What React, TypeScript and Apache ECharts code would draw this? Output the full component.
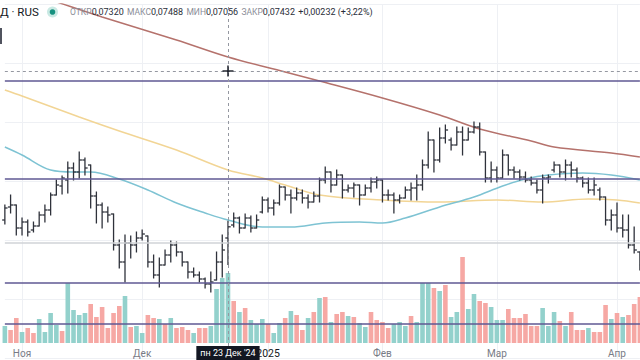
import React, { useEffect, useRef } from 'react';
import * as echarts from 'echarts';

// ---- time axis ----
const barCount = 112;
const monthTickIndex = [3, 24, 46, 66, 86, 107];
const monthTickLabel = ['Ноя', 'Дек', '2025', 'Фев', 'Мар', 'Апр'];

// ---- OHLC (price) ----
const opens = [
  0.0750, 0.0763, 0.0765, 0.0742, 0.0748, 0.0740, 0.0744, 0.0755, 0.0760, 0.0775,
  0.0784, 0.0790, 0.0802, 0.0798, 0.0810, 0.0805, 0.0774, 0.0765, 0.0758, 0.0756,
  0.0725, 0.0708, 0.0727, 0.0725, 0.0732, 0.0734, 0.0708, 0.0695, 0.0705, 0.0715,
  0.0725, 0.0718, 0.0708, 0.0698, 0.0695, 0.0691, 0.0686, 0.0690, 0.0708, 0.07320,
  0.0745, 0.0752, 0.0742, 0.0752, 0.0742, 0.0758, 0.0770, 0.0762, 0.0767, 0.0783,
  0.0775, 0.0772, 0.0777, 0.0772, 0.0768, 0.0774, 0.0790, 0.0798, 0.0785, 0.0795,
  0.0780, 0.0782, 0.0785, 0.0775, 0.0782, 0.0788, 0.0790, 0.0775, 0.0775, 0.0770,
  0.0772, 0.0780, 0.0782, 0.0785, 0.0805, 0.0830, 0.0810, 0.0832, 0.0830, 0.0825,
  0.0838, 0.0830, 0.0838, 0.0843, 0.0818, 0.0792, 0.0800, 0.0792, 0.0815, 0.0800,
  0.0798, 0.0793, 0.0790, 0.0787, 0.0780, 0.0792, 0.0800, 0.0805, 0.0798, 0.0805,
  0.0800, 0.0792, 0.0787, 0.0780, 0.0780, 0.0773, 0.0750, 0.0755, 0.0742, 0.0740,
  0.0725, 0.0718,
];
const highs = [
  0.0765, 0.0775, 0.0765, 0.0752, 0.0750, 0.0748, 0.0758, 0.0765, 0.0777, 0.0790,
  0.0794, 0.0808, 0.0807, 0.0818, 0.0812, 0.0805, 0.0778, 0.0767, 0.0763, 0.0756,
  0.0730, 0.0735, 0.0734, 0.0738, 0.0740, 0.0734, 0.0715, 0.0712, 0.0720, 0.0729,
  0.0728, 0.0718, 0.0708, 0.0702, 0.0698, 0.0692, 0.0698, 0.0718, 0.0735, 0.07488,
  0.0757, 0.0753, 0.0756, 0.0754, 0.0755, 0.0773, 0.0772, 0.0770, 0.0785, 0.0783,
  0.0780, 0.0782, 0.0780, 0.0775, 0.0778, 0.0792, 0.0803, 0.0798, 0.0800, 0.0795,
  0.0785, 0.0787, 0.0785, 0.0785, 0.0792, 0.0793, 0.0790, 0.0780, 0.0777, 0.0775,
  0.0783, 0.0787, 0.0795, 0.0810, 0.0838, 0.0830, 0.0842, 0.0845, 0.0832, 0.0843,
  0.0843, 0.0842, 0.0848, 0.0847, 0.0818, 0.0808, 0.0803, 0.0820, 0.0815, 0.0803,
  0.0800, 0.0798, 0.0793, 0.0790, 0.0795, 0.0795, 0.0808, 0.0805, 0.0810, 0.0808,
  0.0802, 0.0793, 0.0792, 0.0792, 0.0782, 0.0773, 0.0760, 0.0767, 0.0755, 0.0755,
  0.0743, 0.0718,
];
const lows = [
  0.0746, 0.0757, 0.0735, 0.0735, 0.0734, 0.0738, 0.0744, 0.0748, 0.0755, 0.0775,
  0.0776, 0.0777, 0.0790, 0.0792, 0.0795, 0.0762, 0.0747, 0.0742, 0.0748, 0.0720,
  0.0702, 0.0688, 0.0712, 0.0718, 0.0730, 0.0703, 0.0692, 0.0683, 0.0705, 0.0708,
  0.0714, 0.0704, 0.0692, 0.0693, 0.0688, 0.0682, 0.0678, 0.0690, 0.0693, 0.07056,
  0.0743, 0.0737, 0.0742, 0.0738, 0.0742, 0.0757, 0.0758, 0.0755, 0.0765, 0.0770,
  0.0757, 0.0770, 0.0767, 0.0762, 0.0768, 0.0768, 0.0787, 0.0778, 0.0785, 0.0772,
  0.0778, 0.0773, 0.0765, 0.0775, 0.0778, 0.0782, 0.0768, 0.0770, 0.0757, 0.0767,
  0.0772, 0.0770, 0.0770, 0.0780, 0.0802, 0.0798, 0.0808, 0.0827, 0.0820, 0.0825,
  0.0815, 0.0830, 0.0837, 0.0815, 0.0788, 0.0788, 0.0788, 0.0792, 0.0795, 0.0792,
  0.0790, 0.0788, 0.0785, 0.0777, 0.0767, 0.0787, 0.0798, 0.0793, 0.0790, 0.0793,
  0.0788, 0.0783, 0.0777, 0.0775, 0.0770, 0.0745, 0.0740, 0.0738, 0.0733, 0.0722,
  0.0717, 0.0700,
];
const closes = [
  0.0762, 0.0765, 0.0742, 0.0748, 0.0738, 0.0744, 0.0755, 0.0760, 0.0775, 0.0785,
  0.0792, 0.0802, 0.0798, 0.0810, 0.0802, 0.0774, 0.0765, 0.0758, 0.0755, 0.0725,
  0.0708, 0.0727, 0.0725, 0.0732, 0.0736, 0.0708, 0.0695, 0.0705, 0.0715, 0.0725,
  0.0718, 0.0708, 0.0698, 0.0695, 0.0691, 0.0686, 0.0688, 0.0708, 0.0720, 0.07432,
  0.0752, 0.0742, 0.0752, 0.0742, 0.0750, 0.0770, 0.0762, 0.0767, 0.0783, 0.0775,
  0.0772, 0.0777, 0.0772, 0.0768, 0.0774, 0.0790, 0.0798, 0.0785, 0.0795, 0.0780,
  0.0782, 0.0785, 0.0775, 0.0782, 0.0788, 0.0790, 0.0775, 0.0775, 0.0770, 0.0772,
  0.0780, 0.0782, 0.0785, 0.0805, 0.0830, 0.0810, 0.0832, 0.0840, 0.0825, 0.0838,
  0.0830, 0.0838, 0.0843, 0.0818, 0.0792, 0.0800, 0.0792, 0.0815, 0.0800, 0.0798,
  0.0793, 0.0790, 0.0787, 0.0780, 0.0792, 0.0793, 0.0805, 0.0798, 0.0805, 0.0800,
  0.0792, 0.0787, 0.0780, 0.0785, 0.0773, 0.0750, 0.0755, 0.0742, 0.0740, 0.0725,
  0.0720, 0.0705,
];

// ---- volume ----
const volumes = [
  17, 13, 25, 11, 15, 10, 24, 11, 30, 18,
  12, 60, 33, 28, 30, 39, 26, 36, 15, 30,
  37, 47, 16, 17, 10, 28, 25, 24, 19, 25,
  15, 16, 13, 10, 15, 15, 17, 54, 65, 70,
  42, 31, 35, 23, 19, 24, 19, 10, 20, 25,
  32, 28, 13, 25, 31, 45, 46, 21, 29, 31,
  27, 26, 20, 16, 31, 23, 21, 15, 19, 21,
  17, 27, 21, 60, 60, 55, 52, 58, 26, 31,
  86, 34, 49, 42, 40, 36, 23, 23, 34, 25,
  25, 29, 17, 17, 35, 17, 31, 22, 17, 31,
  13, 13, 15, 11, 11, 38, 24, 30, 26, 28,
  39, 46,
];
const volumeUp = [
  1, 0, 0, 1, 0, 0, 1, 1, 1, 1,
  0, 1, 1, 1, 1, 0, 0, 0, 0, 0,
  0, 1, 0, 1, 1, 0, 0, 1, 0, 1,
  0, 0, 0, 1, 0, 0, 1, 1, 1, 1,
  0, 1, 0, 1, 1, 1, 0, 1, 1, 0,
  1, 0, 0, 1, 0, 1, 0, 1, 0, 0,
  1, 0, 1, 1, 0, 0, 0, 0, 1, 1,
  1, 0, 1, 1, 1, 0, 1, 0, 1, 1,
  0, 1, 1, 0, 0, 1, 1, 1, 0, 0,
  0, 0, 0, 0, 1, 1, 1, 0, 1, 0,
  0, 0, 1, 0, 0, 0, 1, 0, 1, 0,
  0, 0,
];

// ---- moving averages: [bar index, price] ----
const maSlow = [
  [0, 0.0985], [8, 0.0970], [17, 0.0953], [30, 0.0930], [39, 0.0913], [49, 0.0898],
  [55, 0.0889], [66, 0.0872], [76, 0.0855], [83, 0.0841], [92, 0.0829], [96, 0.0823],
  [106, 0.0817], [111, 0.0813],
];
const maMid = [
  [0, 0.0880], [3, 0.0874], [13, 0.0853], [20, 0.0839], [30, 0.0820], [39, 0.0800],
  [45, 0.0792], [49, 0.0785], [55, 0.0775], [66, 0.0770], [76, 0.0768], [86, 0.0770],
  [94, 0.0768], [102, 0.0771], [107, 0.0770], [111, 0.0767],
];
const maFast = [
  [0, 0.0823], [3, 0.0815], [8, 0.0800], [12, 0.0798], [15, 0.0798], [20, 0.0791],
  [25, 0.0780], [30, 0.0767], [35, 0.0757], [39, 0.0750], [45, 0.0743], [50, 0.0743],
  [56, 0.0747], [62, 0.0748], [66, 0.0747], [70, 0.0752], [76, 0.0763], [82, 0.0773],
  [87, 0.0784], [91, 0.0791], [95, 0.0795], [101, 0.0797], [106, 0.0795], [111, 0.0790],
];

// ---- drawn levels & crosshair ----
const purpleLevels = [0.0889, 0.0791, 0.06875, 0.06465];
const grayLevel = 0.0727;
const crosshairIndex = 39;
const crosshairPrice = 0.0899;
const crosshairLabel = "пн 23 Дек '24";
const legendPairs = [
  ['ОТКР', '0,07320'],
  ['МАКС', '0,07488'],
  ['МИН', '0,07056'],
  ['ЗАКР', '0,07432'],
];
const legendChange = '+0,00232 (+3,22%)';
const symbolText = 'Д · RUS';

const FONT = 'Roboto, "Noto Sans", sans-serif';

export default function App() {
  const ref = useRef<HTMLDivElement>(null);
  useEffect(() => {
    if (!ref.current) return;
    const chart = echarts.init(ref.current, undefined, { renderer: 'svg' });
    const categories = Array.from({ length: barCount }, (_, i) => String(i));
    const ohlc = opens.map((o, i) => [i, o, highs[i], lows[i], closes[i]]);
    const gridLeft = 4.86;
    const gridWidth = 635.03;

    const lineSeries = (data: number[][], color: string, extra: any = {}) => ({
      type: 'line',
      xAxisIndex: 0,
      yAxisIndex: 0,
      data,
      showSymbol: false,
      smooth: 0.35,
      silent: true,
      z: 4,
      lineStyle: { color, width: 1.5 },
      ...extra,
    });

    const dash = { color: '#9598a1', width: 1, type: [3, 3] };

    chart.setOption({
      animation: false,
      backgroundColor: '#ffffff',
      grid: [
        { left: gridLeft, width: gridWidth, top: 4, height: 354 },
        { left: gridLeft, width: gridWidth, top: 243, height: 100 },
      ],
      xAxis: [
        {
          type: 'category', gridIndex: 0, data: categories, boundaryGap: false,
          axisLine: { show: false }, axisTick: { show: false }, axisLabel: { show: false },
          splitLine: {
            show: true,
            interval: (i: number) => monthTickIndex.includes(i),
            lineStyle: { color: '#eef0f4', width: 1 },
          },
        },
        {
          type: 'category', gridIndex: 1, data: categories, boundaryGap: false,
          axisLine: { show: false }, axisTick: { show: false }, splitLine: { show: false },
          axisLabel: {
            show: true,
            interval: (i: number) => monthTickIndex.includes(i),
            formatter: (_v: string, i: number) => {
              const k = monthTickIndex.indexOf(i);
              if (k < 0) return '';
              const t = monthTickLabel[k];
              return /^\d+$/.test(t) ? `{y|${t}}` : t;
            },
            rich: { y: { color: '#131722', fontSize: 10.5, fontFamily: FONT } },
            margin: 5,
            color: '#787b86',
            fontSize: 10,
            fontFamily: FONT,
          },
        },
      ],
      yAxis: [
        {
          type: 'value', gridIndex: 0, min: 0.0612, max: 0.0966, interval: 0.0059,
          axisLabel: { show: false }, axisLine: { show: false }, axisTick: { show: false },
          splitLine: { show: true, lineStyle: { color: '#eef0f4', width: 1 } },
        },
        {
          type: 'value', gridIndex: 1, min: 0, max: 100, show: false,
          splitLine: { show: false },
        },
      ],
      series: [
        {
          type: 'bar', xAxisIndex: 1, yAxisIndex: 1, barWidth: 4.6, silent: true, z: 1,
          data: volumes.map((v, i) => ({
            value: v,
            itemStyle: { color: volumeUp[i] ? '#93d1cc' : '#f6a8a4' },
          })),
        },
        lineSeries(maSlow, '#b5726c'),
        lineSeries(maMid, '#f2d595'),
        lineSeries(maFast, '#7ec3d3', {
          markLine: {
            silent: true,
            precision: 6,
            symbol: ['none', 'none'],
            label: { show: false },
            z: 6,
            data: [
              ...purpleLevels.map((p) => ({ yAxis: p, lineStyle: { color: '#5f5893', width: 1.6, type: 'solid' } })),
              { yAxis: grayLevel, lineStyle: { color: '#d1d3d7', width: 1.5, type: 'solid' } },
              { yAxis: crosshairPrice, lineStyle: dash },
              { xAxis: crosshairIndex, lineStyle: dash },
            ],
          },
        }),
        {
          type: 'custom', xAxisIndex: 0, yAxisIndex: 0, silent: true, z: 5,
          data: ohlc,
          encode: { x: 0, y: [1, 2, 3, 4] },
          renderItem: (_p: any, api: any) => {
            const i = api.value(0);
            const o = api.coord([i, api.value(1)]);
            const h = api.coord([i, api.value(2)]);
            const l = api.coord([i, api.value(3)]);
            const c = api.coord([i, api.value(4)]);
            const x = o[0];
            const st = { stroke: '#2f323b', lineWidth: 1.3 };
            const t = 2.7;
            return {
              type: 'group',
              children: [
                { type: 'line', shape: { x1: x, y1: h[1] - 0.5, x2: x, y2: l[1] + 0.5 }, style: st },
                { type: 'line', shape: { x1: x - t, y1: o[1], x2: x, y2: o[1] }, style: st },
                { type: 'line', shape: { x1: x, y1: c[1], x2: x + t, y2: c[1] }, style: st },
              ],
            };
          },
        },
        {
          type: 'custom', xAxisIndex: 0, yAxisIndex: 0, silent: true, z: 10,
          data: [[crosshairIndex, crosshairPrice]],
          encode: { x: 0, y: 1 },
          renderItem: (_p: any, api: any) => {
            const pt = api.coord([api.value(0), api.value(1)]);
            const st = { stroke: '#131722', lineWidth: 1.4 };
            const r = 5.5;
            return {
              type: 'group',
              children: [
                { type: 'line', shape: { x1: pt[0] - r, y1: pt[1], x2: pt[0] + r, y2: pt[1] }, style: st },
                { type: 'line', shape: { x1: pt[0], y1: pt[1] - r, x2: pt[0], y2: pt[1] + r }, style: st },
              ],
            };
          },
        },
      ],
    });

    const cx = chart.convertToPixel({ xAxisIndex: 1 }, crosshairIndex) as unknown as number;
    const legendRich = legendPairs
      .map(([k, v]) => `{l|${k}}{v|${v}}`)
      .join(' ') + ` {v|${legendChange}}`;

    chart.setOption({
      graphic: [
        { type: 'rect', shape: { x: 0, y: 28, width: 2, height: 16 }, style: { fill: '#50535e' }, z: 20 },
        {
          type: 'text', x: 0, y: 12, z: 20,
          style: { text: symbolText, fill: '#131722', font: `11.5px ${FONT}`, verticalAlign: 'middle' },
        },
        { type: 'circle', shape: { cx: 52.5, cy: 12, r: 5.5 }, style: { fill: 'rgba(8,153,129,0.22)' }, z: 20 },
        { type: 'circle', shape: { cx: 52.5, cy: 12, r: 2.8 }, style: { fill: '#16917f' }, z: 21 },
        {
          type: 'text', x: 70, y: 12, z: 20,
          style: {
            text: legendRich,
            verticalAlign: 'middle',
            rich: {
              l: { fill: '#8a8d97', fontSize: 8.5, fontFamily: FONT },
              v: { fill: '#2a2e39', fontSize: 9, fontFamily: FONT },
            },
          },
        },
        {
          type: 'text', x: cx, y: 346, z: 30,
          style: {
            text: crosshairLabel,
            fill: '#ffffff',
            font: `9px ${FONT}`,
            align: 'center',
            verticalAlign: 'top',
            backgroundColor: '#131722',
            padding: [2.5, 4, 2.5, 4],
          },
        },
      ],
    });

    return () => chart.dispose();
  }, []);

  return (
    <div
      ref={ref}
      style={{ position: 'fixed', left: 0, top: 0, width: 640, height: 360, background: '#fff' }}
    />
  );
}
